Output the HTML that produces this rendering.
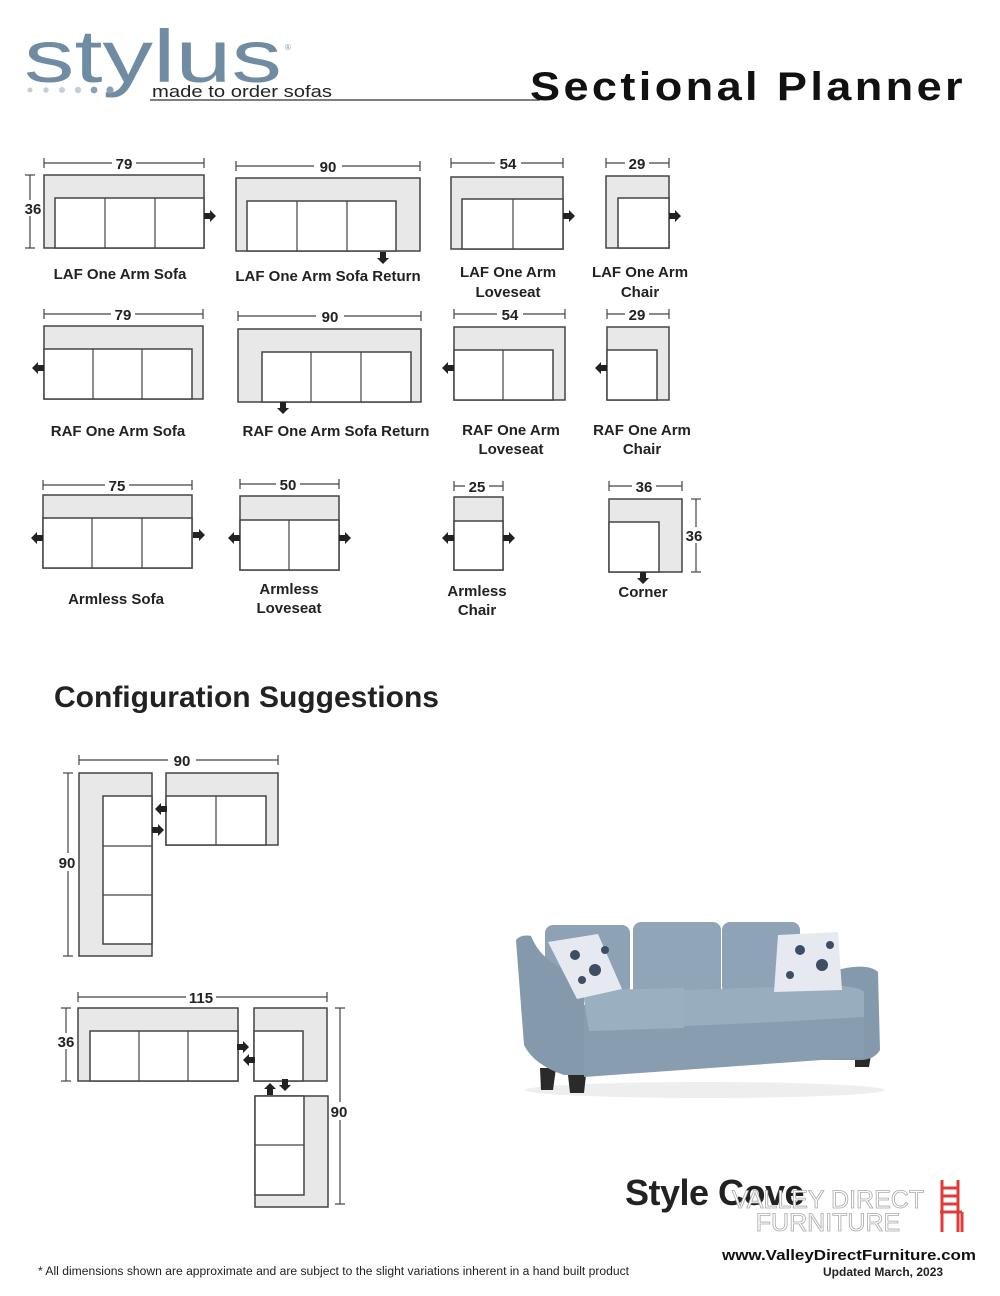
<!DOCTYPE html>
<html><head><meta charset="utf-8"><style>
html,body{margin:0;padding:0;background:#fff;overflow:hidden;}
svg{display:block;}
text{font-family:"Liberation Sans",sans-serif;}
.g{fill:#e8e8e8;stroke:#444;stroke-width:1.5;}
.w{fill:#fff;stroke:#444;stroke-width:1.5;}
.d{stroke:#444;stroke-width:1.2;fill:none;}
.n{font-weight:bold;font-size:15px;fill:#222;text-anchor:middle;}
.l{font-weight:bold;font-size:15px;fill:#222;text-anchor:middle;}
</style></head><body>
<svg width="1000" height="1296" viewBox="0 0 1000 1296" xmlns="http://www.w3.org/2000/svg">
<defs>
<polygon id="ar" points="-6,-3 0,-3 0,-6 6,0 0,6 0,3 -6,3" fill="#222"/>
</defs>
<!-- header -->
<text x="24" y="82" font-size="74" fill="#6f8ca3" textLength="258" lengthAdjust="spacingAndGlyphs">stylus</text>
<text x="285" y="50" font-size="8" fill="#7b95aa">®</text>
<g fill="#c5ced6"><circle cx="30" cy="90" r="2.5"/><circle cx="46" cy="90" r="2.7"/><circle cx="62" cy="90" r="3"/><circle cx="78" cy="90" r="3.2"/></g>
<g fill="#8aa0b3"><circle cx="94" cy="90" r="3.4"/><circle cx="110" cy="90" r="3.6"/></g>
<text x="152" y="97" font-size="17" fill="#222" textLength="180" lengthAdjust="spacingAndGlyphs">made to order sofas</text>
<line x1="150" y1="100" x2="540" y2="100" stroke="#333" stroke-width="1.2"/>
<text x="530" y="100" font-size="40" font-weight="bold" fill="#111" textLength="436" lengthAdjust="spacingAndGlyphs" style="letter-spacing:3px">Sectional Planner</text>

<!-- Row 1 -->
<line class="d" x1="44" y1="163" x2="204" y2="163"/><line class="d" x1="44" y1="158" x2="44" y2="168"/><line class="d" x1="204" y1="158" x2="204" y2="168"/>
<rect x="112" y="155" width="24" height="14" fill="#fff"/><text class="n" x="124" y="169">79</text>
<line class="d" x1="30" y1="175" x2="30" y2="248"/><line class="d" x1="25" y1="175" x2="35" y2="175"/><line class="d" x1="25" y1="248" x2="35" y2="248"/>
<rect x="22" y="200" width="22" height="16" fill="#fff"/><text class="n" x="33" y="214">36</text>
<rect class="g" x="44" y="175" width="160" height="73"/><rect class="w" x="55" y="198" width="149" height="50"/>
<line class="d" x1="105" y1="198" x2="105" y2="248"/><line class="d" x1="155" y1="198" x2="155" y2="248"/>
<use href="#ar" x="210" y="216"/>
<text class="l" x="120" y="279">LAF One Arm Sofa</text>

<line class="d" x1="236" y1="166" x2="420" y2="166"/><line class="d" x1="236" y1="161" x2="236" y2="171"/><line class="d" x1="420" y1="161" x2="420" y2="171"/>
<rect x="314" y="158" width="28" height="14" fill="#fff"/><text class="n" x="328" y="172">90</text>
<rect class="g" x="236" y="178" width="184" height="73"/><rect class="w" x="247" y="201" width="149" height="50"/>
<line class="d" x1="297" y1="201" x2="297" y2="251"/><line class="d" x1="347" y1="201" x2="347" y2="251"/>
<use href="#ar" transform="translate(383,258) rotate(90)"/>
<text class="l" x="328" y="281">LAF One Arm Sofa Return</text>

<line class="d" x1="451" y1="163" x2="563" y2="163"/><line class="d" x1="451" y1="158" x2="451" y2="168"/><line class="d" x1="563" y1="158" x2="563" y2="168"/>
<rect x="495" y="155" width="26" height="14" fill="#fff"/><text class="n" x="508" y="169">54</text>
<rect class="g" x="451" y="177" width="112" height="72"/><rect class="w" x="462" y="199" width="101" height="50"/>
<line class="d" x1="513" y1="199" x2="513" y2="249"/>
<use href="#ar" x="569" y="216"/>
<text class="l" x="508" y="277">LAF One Arm</text><text class="l" x="508" y="297">Loveseat</text>

<line class="d" x1="606" y1="163" x2="669" y2="163"/><line class="d" x1="606" y1="158" x2="606" y2="168"/><line class="d" x1="669" y1="158" x2="669" y2="168"/>
<rect x="625" y="155" width="24" height="14" fill="#fff"/><text class="n" x="637" y="169">29</text>
<rect class="g" x="606" y="176" width="63" height="72"/><rect class="w" x="618" y="198" width="51" height="50"/>
<use href="#ar" x="675" y="216"/>
<text class="l" x="640" y="277">LAF One Arm</text><text class="l" x="640" y="297">Chair</text>

<!-- Row 2 -->
<line class="d" x1="44" y1="314" x2="203" y2="314"/><line class="d" x1="44" y1="309" x2="44" y2="319"/><line class="d" x1="203" y1="309" x2="203" y2="319"/>
<rect x="111" y="306" width="24" height="14" fill="#fff"/><text class="n" x="123" y="320">79</text>
<rect class="g" x="44" y="326" width="159" height="73"/><rect class="w" x="44" y="349" width="148" height="50"/>
<line class="d" x1="93" y1="349" x2="93" y2="399"/><line class="d" x1="142" y1="349" x2="142" y2="399"/>
<use href="#ar" transform="translate(38,368) rotate(180)"/>
<text class="l" x="118" y="436">RAF One Arm Sofa</text>

<line class="d" x1="238" y1="316" x2="421" y2="316"/><line class="d" x1="238" y1="311" x2="238" y2="321"/><line class="d" x1="421" y1="311" x2="421" y2="321"/>
<rect x="316" y="308" width="28" height="14" fill="#fff"/><text class="n" x="330" y="322">90</text>
<rect class="g" x="238" y="329" width="183" height="73"/><rect class="w" x="262" y="352" width="149" height="50"/>
<line class="d" x1="311" y1="352" x2="311" y2="402"/><line class="d" x1="361" y1="352" x2="361" y2="402"/>
<use href="#ar" transform="translate(283,408) rotate(90)"/>
<text class="l" x="336" y="436">RAF One Arm Sofa Return</text>

<line class="d" x1="454" y1="314" x2="565" y2="314"/><line class="d" x1="454" y1="309" x2="454" y2="319"/><line class="d" x1="565" y1="309" x2="565" y2="319"/>
<rect x="497" y="306" width="26" height="14" fill="#fff"/><text class="n" x="510" y="320">54</text>
<rect class="g" x="454" y="327" width="111" height="73"/><rect class="w" x="454" y="350" width="99" height="50"/>
<line class="d" x1="503" y1="350" x2="503" y2="400"/>
<use href="#ar" transform="translate(448,368) rotate(180)"/>
<text class="l" x="511" y="435">RAF One Arm</text><text class="l" x="511" y="454">Loveseat</text>

<line class="d" x1="607" y1="314" x2="669" y2="314"/><line class="d" x1="607" y1="309" x2="607" y2="319"/><line class="d" x1="669" y1="309" x2="669" y2="319"/>
<rect x="625" y="306" width="24" height="14" fill="#fff"/><text class="n" x="637" y="320">29</text>
<rect class="g" x="607" y="327" width="62" height="73"/><rect class="w" x="607" y="350" width="50" height="50"/>
<use href="#ar" transform="translate(601,368) rotate(180)"/>
<text class="l" x="642" y="435">RAF One Arm</text><text class="l" x="642" y="454">Chair</text>

<!-- Row 3 -->
<line class="d" x1="43" y1="485" x2="192" y2="485"/><line class="d" x1="43" y1="480" x2="43" y2="490"/><line class="d" x1="192" y1="480" x2="192" y2="490"/>
<rect x="105" y="477" width="24" height="14" fill="#fff"/><text class="n" x="117" y="491">75</text>
<rect class="g" x="43" y="495" width="149" height="73"/><rect class="w" x="43" y="518" width="149" height="50"/>
<line class="d" x1="92" y1="518" x2="92" y2="568"/><line class="d" x1="142" y1="518" x2="142" y2="568"/>
<use href="#ar" transform="translate(37,538) rotate(180)"/><use href="#ar" x="199" y="535"/>
<text class="l" x="116" y="604">Armless Sofa</text>

<line class="d" x1="240" y1="484" x2="339" y2="484"/><line class="d" x1="240" y1="479" x2="240" y2="489"/><line class="d" x1="339" y1="479" x2="339" y2="489"/>
<rect x="276" y="476" width="24" height="14" fill="#fff"/><text class="n" x="288" y="490">50</text>
<rect class="g" x="240" y="496" width="99" height="74"/><rect class="w" x="240" y="520" width="99" height="50"/>
<line class="d" x1="289" y1="520" x2="289" y2="570"/>
<use href="#ar" transform="translate(234,538) rotate(180)"/><use href="#ar" x="345" y="538"/>
<text class="l" x="289" y="594">Armless</text><text class="l" x="289" y="613">Loveseat</text>

<line class="d" x1="454" y1="486" x2="503" y2="486"/><line class="d" x1="454" y1="481" x2="454" y2="491"/><line class="d" x1="503" y1="481" x2="503" y2="491"/>
<rect x="465" y="478" width="24" height="14" fill="#fff"/><text class="n" x="477" y="492">25</text>
<rect class="g" x="454" y="497" width="49" height="73"/><rect class="w" x="454" y="521" width="49" height="49"/>
<use href="#ar" transform="translate(448,538) rotate(180)"/><use href="#ar" x="509" y="538"/>
<text class="l" x="477" y="596">Armless</text><text class="l" x="477" y="615">Chair</text>

<line class="d" x1="609" y1="486" x2="682" y2="486"/><line class="d" x1="609" y1="481" x2="609" y2="491"/><line class="d" x1="682" y1="481" x2="682" y2="491"/>
<rect x="632" y="478" width="24" height="14" fill="#fff"/><text class="n" x="644" y="492">36</text>
<line class="d" x1="696" y1="499" x2="696" y2="572"/><line class="d" x1="691" y1="499" x2="701" y2="499"/><line class="d" x1="691" y1="572" x2="701" y2="572"/>
<rect x="684" y="527" width="24" height="16" fill="#fff"/><text class="n" x="694" y="541">36</text>
<rect class="g" x="609" y="499" width="73" height="73"/><rect class="w" x="609" y="522" width="50" height="50"/>
<use href="#ar" transform="translate(643,578) rotate(90)"/>
<text class="l" x="643" y="597">Corner</text>

<!-- Config -->
<text x="54" y="707" font-size="30" font-weight="bold" fill="#222">Configuration Suggestions</text>

<line class="d" x1="79" y1="760" x2="278" y2="760"/><line class="d" x1="79" y1="755" x2="79" y2="765"/><line class="d" x1="278" y1="755" x2="278" y2="765"/>
<rect x="168" y="752" width="28" height="14" fill="#fff"/><text class="n" x="182" y="766">90</text>
<line class="d" x1="68" y1="773" x2="68" y2="956"/><line class="d" x1="63" y1="773" x2="73" y2="773"/><line class="d" x1="63" y1="956" x2="73" y2="956"/>
<rect x="56" y="853" width="24" height="18" fill="#fff"/><text class="n" x="67" y="868">90</text>
<rect class="g" x="79" y="773" width="73" height="183"/><rect class="w" x="103" y="796" width="49" height="148"/>
<line class="d" x1="103" y1="846" x2="152" y2="846"/><line class="d" x1="103" y1="895" x2="152" y2="895"/>
<rect class="g" x="166" y="773" width="112" height="72"/><rect class="w" x="166" y="796" width="100" height="49"/>
<line class="d" x1="216" y1="796" x2="216" y2="845"/>
<use href="#ar" transform="translate(161,809) rotate(180)"/><use href="#ar" x="158" y="830"/>

<line class="d" x1="78" y1="997" x2="327" y2="997"/><line class="d" x1="78" y1="992" x2="78" y2="1002"/><line class="d" x1="327" y1="992" x2="327" y2="1002"/>
<rect x="186" y="989" width="30" height="14" fill="#fff"/><text class="n" x="201" y="1003">115</text>
<line class="d" x1="66" y1="1008" x2="66" y2="1081"/><line class="d" x1="61" y1="1008" x2="71" y2="1008"/><line class="d" x1="61" y1="1081" x2="71" y2="1081"/>
<rect x="55" y="1033" width="24" height="16" fill="#fff"/><text class="n" x="66" y="1047">36</text>
<line class="d" x1="340" y1="1008" x2="340" y2="1204"/><line class="d" x1="335" y1="1008" x2="345" y2="1008"/><line class="d" x1="335" y1="1204" x2="345" y2="1204"/>
<rect x="328" y="1102" width="24" height="18" fill="#fff"/><text class="n" x="339" y="1117">90</text>
<rect class="g" x="78" y="1008" width="160" height="73"/><rect class="w" x="90" y="1031" width="148" height="50"/>
<line class="d" x1="139" y1="1031" x2="139" y2="1081"/><line class="d" x1="188" y1="1031" x2="188" y2="1081"/>
<rect class="g" x="254" y="1008" width="73" height="73"/><rect class="w" x="254" y="1031" width="49" height="50"/>
<rect class="g" x="255" y="1096" width="73" height="111"/><rect class="w" x="255" y="1096" width="49" height="99"/>
<line class="d" x1="255" y1="1145" x2="304" y2="1145"/>
<use href="#ar" x="243" y="1047"/><use href="#ar" transform="translate(249,1060) rotate(180)"/>
<use href="#ar" transform="translate(270,1089) rotate(-90)"/><use href="#ar" transform="translate(285,1085) rotate(90)"/>

<!-- sofa photo -->
<g>
<ellipse cx="705" cy="1090" rx="180" ry="8" fill="#eee"/>
<path d="M540,1068 l16,0 l-3,22 l-12,0z" fill="#2a2a2a"/>
<path d="M855,1055 l16,0 l-2,12 l-14,0z" fill="#2a2a2a"/>
<path d="M568,1075 l18,0 l-2,18 l-14,0z" fill="#2a2a2a"/>
<rect x="545" y="925" width="85" height="70" rx="8" fill="#8da2b4"/>
<rect x="633" y="922" width="88" height="75" rx="8" fill="#90a5b7"/>
<rect x="722" y="922" width="78" height="72" rx="8" fill="#8ea3b5"/>
<path d="M516,940 q5,-6 15,-4 q10,25 38,35 l15,5 l0,99 l-20,0 q-30,-10 -40,-30z" fill="#8499ab"/>
<path d="M820,975 q45,-15 58,-3 l2,78 q-6,10 -20,10 l-40,0z" fill="#8499ab"/>
<path d="M584,1005 l280,-8 l0,60 l-280,20z" fill="#889db0"/>
<path d="M584,1000 q0,-10 10,-10 l90,-2 l0,40 l-95,3z" fill="#9ab0c1"/>
<path d="M684,990 l92,-3 l0,35 l-92,4z" fill="#98aebf"/>
<path d="M776,987 q80,-5 88,5 l0,25 l-88,5z" fill="#98aebf"/>
<path d="M548,942 l50,-8 l24,55 l-45,10z" fill="#e6e9ef"/>
<g fill="#3d4d63"><circle cx="575" cy="955" r="5"/><circle cx="595" cy="970" r="6"/><circle cx="582" cy="980" r="4"/><circle cx="605" cy="950" r="4"/></g>
<path d="M778,935 l60,-3 l4,58 l-68,2z" fill="#e6e9ef"/>
<g fill="#3d4d63"><circle cx="800" cy="950" r="5"/><circle cx="822" cy="965" r="6"/><circle cx="790" cy="975" r="4"/><circle cx="830" cy="945" r="4"/></g>
</g>

<!-- footer -->
<text x="625" y="1205" font-size="36" font-weight="bold" fill="#222" style="letter-spacing:-0.5px">Style Cove</text>
<text x="828" y="1208" font-size="25" fill="#fff" stroke="#aaa" stroke-width="0.8" text-anchor="middle">VALLEY DIRECT</text>
<text x="828" y="1231" font-size="25" fill="#fff" stroke="#aaa" stroke-width="0.8" text-anchor="middle">FURNITURE</text>
<g stroke="#e03b3b" stroke-width="3" fill="none"><line x1="942" y1="1180" x2="942" y2="1232"/><line x1="958" y1="1180" x2="958" y2="1232"/><line x1="942" y1="1188" x2="958" y2="1188"/><line x1="942" y1="1196" x2="958" y2="1196"/><line x1="942" y1="1204" x2="958" y2="1204"/><line x1="940" y1="1212" x2="962" y2="1212"/><line x1="962" y1="1212" x2="962" y2="1232"/></g>
<text x="722" y="1260" font-size="15" font-weight="bold" fill="#111" textLength="254" lengthAdjust="spacingAndGlyphs">www.ValleyDirectFurniture.com</text>
<text x="823" y="1276" font-size="12" font-weight="bold" fill="#222">Updated March, 2023</text>
<text x="38" y="1275" font-size="11.5" fill="#222" textLength="591" lengthAdjust="spacingAndGlyphs">* All dimensions shown are approximate and are subject to the slight variations inherent in a hand built product</text>
</svg>
</body></html>
